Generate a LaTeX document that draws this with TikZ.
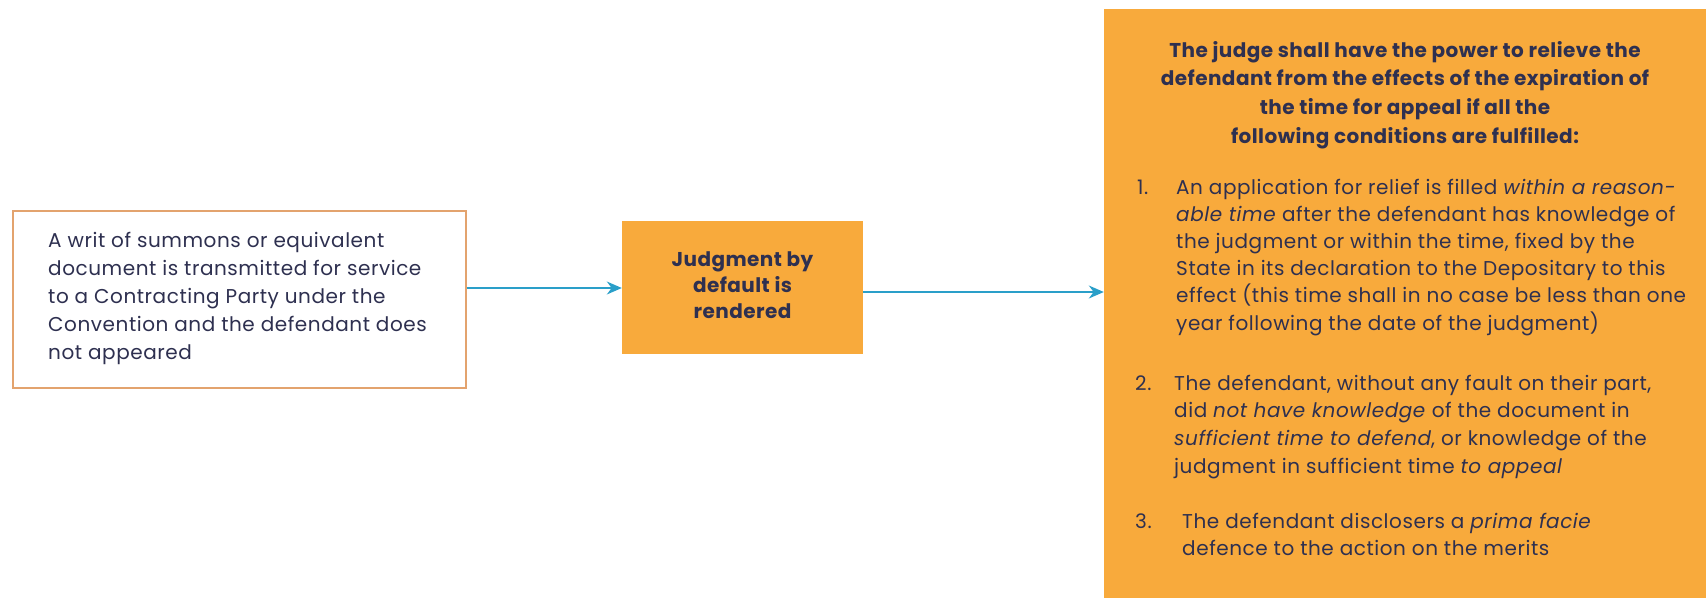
\documentclass[tikz,border=0pt]{standalone}
\usepackage{fontspec}
\setmainfont{Poppins}
\newfontfamily\bodyfam[LetterSpace=2.8]{Poppins}
\newfontfamily\headfam[LetterSpace=2.2]{Poppins}
\usetikzlibrary{arrows.meta}
\definecolor{boxorange}{HTML}{F8AA3C}
\definecolor{edgeorange}{HTML}{E3A36E}
\definecolor{navy}{HTML}{2E3050}
\definecolor{teal}{HTML}{2A9FC9}
\tikzset{
  flow/.style={draw=teal, line width=1.6pt, -{Stealth[length=15pt,width=13pt]}},
  plainbox/.style={draw=edgeorange, line width=1.2pt, fill=white, inner sep=0pt},
  fillbox/.style={fill=boxorange, inner sep=0pt},
  txt/.style={inner sep=0pt, text=navy}
}
\newcommand{\bodyfont}{\bodyfam\fontsize{20}{28}\selectfont}
\begin{document}
\begin{tikzpicture}[x=1pt,y=-1pt]
\useasboundingbox (0,0) rectangle (1706,598);
% left box
\node[plainbox, minimum width=453pt, minimum height=177pt] (src) at (239.5,299.5) {};
\node[txt, anchor=base west] (srctxt) at (48,247) {\parbox[t]{420pt}{\bodyfont\raggedright
A writ of summons or equivalent\\
document is transmitted for service\\
to a Contracting Party under the\\
Convention and the defendant does\\
not appeared}};
% middle box
\node[fillbox, minimum width=241pt, minimum height=133pt] (judg) at (742.5,287.5) {};
\node[txt, anchor=base] (judgtxt) at (742.5,266) {\parbox[t]{220pt}{\headfam\fontsize{20}{26}\selectfont\bfseries\centering
Judgment by\\ default is\\ rendered}};
% right box
\node[fillbox, minimum width=602pt, minimum height=589pt] (cond) at (1405,303.5) {};
\node[txt, anchor=base] (head) at (1405,57) {\parbox[t]{590pt}{\headfam\fontsize{20}{28.7}\selectfont\bfseries\centering
The judge shall have the power to relieve the\\
defendant from the effects of the expiration of\\
the time for appeal if all the\\
following conditions are fulfilled:}};
\node[txt, anchor=base west] (n1) at (1137,194) {\bodyfont 1.};
\node[txt, anchor=base west] (c1) at (1176,194) {\parbox[t]{525pt}{\bodyfam\fontsize{20}{27.2}\selectfont\raggedright
An application for relief is filled \textit{within a reason-}\\
\textit{able time} after the defendant has knowledge of\\
the judgment or within the time, fixed by the\\
State in its declaration to the Depositary to this\\
effect (this time shall in no case be less than one\\
year following the date of the judgment)}};
\node[txt, anchor=base west] (n2) at (1135,390) {\bodyfont 2.};
\node[txt, anchor=base west] (c2) at (1174,390) {\parbox[t]{525pt}{\bodyfam\fontsize{20}{27.7}\selectfont\raggedright
The defendant, without any fault on their part,\\
did \textit{not have knowledge} of the document in\\
\textit{sufficient time to defend}, or knowledge of the\\
judgment in sufficient time \textit{to appeal}}};
\node[txt, anchor=base west] (n3) at (1135,528) {\bodyfont 3.};
\node[txt, anchor=base west] (c3) at (1182,528) {\parbox[t]{525pt}{\bodyfam\fontsize{20}{27.5}\selectfont\raggedright
The defendant disclosers a \textit{prima facie}\\
defence to the action on the merits}};
% connectors
\draw[flow] (src.east |- 0,288) -- (judg.west |- 0,288);
\draw[flow] (judg.east |- 0,292) -- (cond.west |- 0,292);
\end{tikzpicture}
\end{document}
